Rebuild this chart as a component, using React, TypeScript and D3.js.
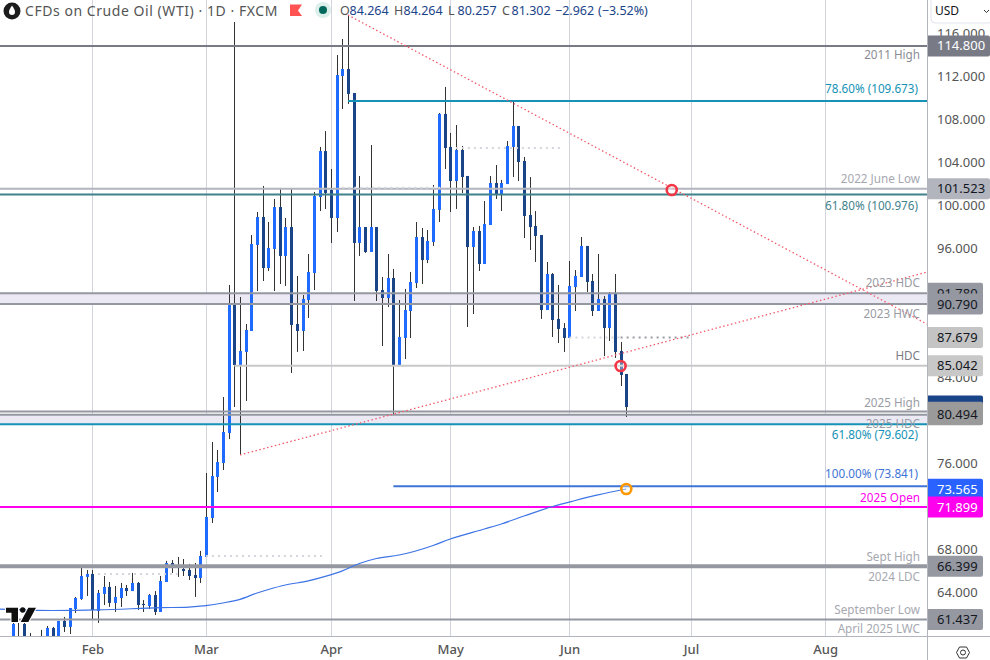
import React, { useEffect, useRef } from 'react';
import * as d3 from 'd3';

const WIDTH = 990;
const HEIGHT = 660;
const PLOT_RIGHT = 927;
const PLOT_BOTTOM = 636;
const FONT = '"Noto Sans", sans-serif';

const UP = '#1f6bff';
const DOWN = '#1a4488';
const WICK = '#333333';
const GRID = '#d1d4dc';

// daily candles, left to right
const opens = [59.54, 59.8, 61.03, 59.54, 59.3, 59.54, 59.54, 60.65, 59.54, 61.31, 60.75, 62.42, 63.35, 65.4, 65.68, 62.23, 63.82, 64.47, 62.98, 63.44, 64.37, 64.09, 64.84, 62.89, 62.7, 63.72, 62.14, 64.93, 66.7, 66.42, 66.14, 66.05, 65.58, 65.3, 67.26, 70.88, 74.7, 76.0, 78.79, 90.7, 85.12, 86.33, 88.28, 96.28, 98.88, 94.14, 95.91, 99.81, 95.26, 97.95, 88.93, 88.28, 91.16, 93.67, 100.74, 105.02, 101.4, 98.79, 112.0, 112.65, 110.42, 96.47, 97.95, 95.63, 97.95, 92.09, 91.35, 93.21, 85.12, 87.63, 90.14, 92.74, 97.02, 94.88, 96.56, 99.54, 108.47, 105.4, 102.23, 105.12, 102.7, 96.09, 97.58, 94.51, 98.14, 102.05, 101.02, 101.95, 105.4, 107.35, 104.09, 99.07, 98.05, 97.21, 90.23, 93.58, 89.4, 88.56, 87.63, 92.37, 93.3, 96.19, 92.93, 90.14, 91.26, 88.56, 91.81, 86.42, 84.28];
const highs = [61.58, 61.12, 61.4, 60.19, 59.5, 60.47, 60.84, 60.75, 61.31, 61.68, 62.51, 63.54, 66.23, 66.05, 66.05, 64.19, 65.49, 64.93, 64.56, 64.84, 64.65, 65.77, 64.93, 63.26, 63.82, 64.09, 65.49, 66.89, 66.98, 67.26, 67.07, 66.61, 66.7, 67.82, 75.07, 77.96, 77.21, 82.14, 92.56, 117.02, 91.44, 88.93, 97.21, 99.35, 101.77, 98.42, 100.56, 101.49, 98.79, 101.49, 93.4, 91.63, 95.44, 101.21, 105.4, 106.88, 103.35, 113.95, 115.44, 117.67, 110.42, 102.7, 97.95, 105.58, 97.95, 93.3, 95.44, 94.05, 91.16, 92.19, 93.77, 98.42, 97.86, 97.67, 101.86, 108.56, 110.98, 106.7, 107.44, 105.49, 102.7, 97.95, 98.05, 100.37, 102.7, 103.72, 102.33, 105.95, 109.67, 107.35, 104.47, 102.6, 99.44, 97.21, 94.7, 93.67, 92.56, 89.02, 94.79, 93.95, 97.02, 96.19, 93.58, 95.44, 91.53, 91.91, 93.58, 87.26, 84.28];
const lows = [59.35, 59.35, 59.35, 59.26, 59.0, 59.26, 59.26, 59.26, 59.54, 60.28, 60.09, 62.05, 63.26, 63.63, 61.49, 61.12, 62.79, 62.61, 62.14, 62.61, 63.63, 64.09, 62.33, 62.14, 62.42, 61.86, 62.14, 64.93, 65.77, 65.4, 65.49, 65.12, 63.54, 64.84, 67.26, 70.42, 73.3, 75.35, 78.23, 81.21, 76.75, 81.77, 88.28, 92.0, 92.93, 93.86, 92.0, 92.65, 92.47, 84.37, 86.33, 86.42, 89.49, 92.09, 99.44, 99.63, 96.47, 97.49, 108.93, 109.4, 91.07, 95.26, 95.54, 95.63, 91.07, 86.88, 90.51, 80.56, 85.12, 85.67, 87.63, 92.28, 92.65, 94.6, 96.19, 98.42, 103.35, 99.35, 99.63, 101.12, 88.65, 89.86, 93.86, 94.51, 98.14, 100.56, 99.44, 101.95, 102.6, 102.23, 96.93, 95.82, 94.7, 89.4, 90.23, 87.72, 87.16, 86.33, 87.63, 90.14, 93.3, 91.91, 89.67, 90.14, 85.95, 87.35, 85.77, 83.16, 80.28];
const closes = [61.03, 59.54, 59.54, 59.82, 59.4, 59.82, 60.65, 59.54, 61.31, 60.75, 62.51, 63.44, 65.49, 65.68, 62.33, 63.91, 64.47, 62.98, 63.54, 64.37, 64.09, 64.84, 62.79, 62.79, 63.72, 62.14, 65.02, 66.7, 66.51, 66.33, 65.95, 65.49, 65.3, 67.35, 70.98, 74.79, 76.09, 78.88, 90.7, 85.12, 86.42, 88.37, 96.37, 98.88, 94.14, 96.0, 99.81, 95.26, 97.95, 88.84, 88.28, 91.26, 93.77, 100.84, 105.02, 101.12, 98.79, 112.09, 112.65, 110.33, 96.47, 97.95, 95.63, 97.95, 92.0, 91.35, 93.21, 85.12, 87.72, 90.23, 92.84, 97.02, 94.88, 96.65, 99.63, 108.47, 105.3, 102.23, 105.12, 102.6, 96.09, 97.58, 94.51, 98.23, 102.05, 101.02, 102.05, 105.49, 107.35, 104.0, 98.98, 97.95, 97.12, 90.23, 93.58, 89.3, 88.47, 87.63, 92.47, 93.4, 96.19, 92.84, 90.14, 91.26, 88.56, 91.81, 86.33, 84.19, 81.21];

// moving average, sampled at these candle positions
const maIndex = [-3, 7, 15, 26, 31, 34, 37, 40, 43, 45, 48, 52, 55, 58, 61, 64, 68, 74, 77, 83, 86, 90, 95, 99, 103, 108];
const maValues = [62.42, 62.28, 62.33, 62.54, 62.6, 62.73, 62.98, 63.32, 63.91, 64.23, 64.65, 65.03, 65.45, 65.96, 66.65, 67.12, 67.44, 68.33, 68.93, 69.86, 70.33, 71.07, 71.95, 72.51, 73.03, 73.58];

const monthNames = ['Feb', 'Mar', 'Apr', 'May', 'Jun', 'Jul', 'Aug'];
const monthIndex = [14, 34, 56, 77, 98, 119.4, 143];
// the other round prices sit fully behind the axis boxes
const priceTicks = [116, 112, 108, 104, 100, 96, 84, 76, 68, 64];

// horizontal levels: price, colour, width, first candle (null = from the left edge)
const levelPrices = [114.8, 109.673, 101.523, 100.976, 91.78, 90.79, 85.042, 80.8, 80.494, 79.602, 73.841, 71.899, 66.399, 61.437];
const levelColors = ['#787b86', '#1592b5', '#b2b5be', '#3f828c', '#9598a1', '#9598a1', '#c8c8c8', '#9598a1', '#9598a1', '#1592b5', '#3d74d6', '#ff00ee', '#9598a1', '#9598a1'];
const levelWidths = [2, 2, 2, 2, 2, 2, 2, 2, 2, 2, 2, 2, 4, 2];
const levelStart: (number | null)[] = [null, 59, null, null, null, null, 39, null, null, null, 67, null, null, null];

// shaded zones between two prices
const zoneTops = [91.78, 80.494];
const zoneBottoms = [90.79, 79.602];

// dotted stubs: price, from candle, to candle, colour
const dotPrices = [105.3, 101.6, 87.679, 87.679, 67.35, 65.68];
const dotFrom = [78, 58, 98, 107, 34, 15];
const dotTo = [97, 76, 107, 119.5, 55, 29];
const dotColors = ['#d4d6dc', '#d4d6dc', '#d4d6dc', '#9a9ca3', '#d4d6dc', '#d4d6dc'];

// sloped trend lines
const trendFromIndex = [59, 40];
const trendFromPrice = [117.67, 76.75];
const trendToIndex = [161, 161];
const trendToPrice = [88.9, 93.77];

// ring markers
const ringIndex = [116, 107, 108];
const ringPrice = [101.4, 85.02, 73.58];
const ringColors = ['#f23645', '#f23645', '#ff9800'];

// right side text labels
const labelTexts = ['2011 High', '78.60% (109.673)', '2022 June Low', '61.80% (100.976)', '2023 HDC', '2023 HWC', 'HDC', '2025 High', '2025 HDC', '61.80% (79.602)', '100.00% (73.841)', '2025 Open', 'Sept High', '2024 LDC', 'September Low', 'April 2025 LWC'];
const labelPrices = [113.58, 110.38, 102.03, 99.53, 92.33, 89.5, 85.6, 81.18, 79.23, 78.25, 74.58, 72.38, 66.88, 64.98, 61.95, 60.2];
const labelRight = [920, 918, 920, 918, 920, 920, 920, 920, 920, 918, 918, 920, 920, 920, 920, 920];
const labelColors = ['#8a8c94', '#1592b5', '#a6a8b0', '#3f828c', '#9a9ca3', '#9a9ca3', '#7a7c84', '#9a9ca3', '#9a9ca3', '#1592b5', '#3d74d6', '#ff00ee', '#a6a8b0', '#a6a8b0', '#a6a8b0', '#a6a8b0'];

// price boxes on the axis, drawn in this order
const boxPrices = [114.8, 101.523, 91.78, 90.79, 87.679, 85.042, 81.302, 80.494, 73.565, 71.899, 66.399, 61.437];
const boxFills = ['#787b86', '#b2b5be', '#9598a1', '#9598a1', '#c4c4c4', '#c8c8c8', '#1a4488', '#9a9a9a', '#2962ff', '#ff00ee', '#9598a1', '#9598a1'];
const boxText = ['#ffffff', '#131722', '#131722', '#131722', '#131722', '#131722', '', '#131722', '#ffffff', '#ffffff', '#131722', '#131722'];
const boxRight = [990, 990, 983, 983, 983, 983, 983, 983, 983, 983, 983, 983];
const boxRise = [0, 0, 0, 0, 0, 0, 0, 2.5, 0, 0, 0, 0];

const legendNames = ['O', 'H', 'L', 'C'];
const legendValues = ['84.264', '84.264', '80.257', '81.302'];

const App: React.FC = () => {
  const svgRef = useRef<SVGSVGElement>(null);

  useEffect(() => {
    const svg = d3.select(svgRef.current);
    svg.selectAll('*').remove();

    const x = d3.scaleLinear().domain([0, 108]).range([12.8, 626.3]);
    const y = d3.scaleLinear().domain([100, 68]).range([205, 549]);
    const px = (v: number) => Math.round(x(v));

    svg.append('defs').append('clipPath').attr('id', 'plot')
      .append('rect').attr('width', PLOT_RIGHT).attr('height', PLOT_BOTTOM);

    const plot = svg.append('g').attr('clip-path', 'url(#plot)');

    // month grid
    monthIndex.forEach(m => {
      plot.append('line')
        .attr('x1', px(m) + 0.5).attr('x2', px(m) + 0.5)
        .attr('y1', 0).attr('y2', PLOT_BOTTOM)
        .attr('stroke', GRID).attr('stroke-width', 1);
    });

    // shaded zones
    zoneTops.forEach((top, i) => {
      plot.append('rect')
        .attr('x', 0).attr('width', PLOT_RIGHT)
        .attr('y', y(top)).attr('height', y(zoneBottoms[i]) - y(top))
        .attr('fill', '#ebe9f4');
    });

    // candles
    opens.forEach((open, i) => {
      const close = closes[i];
      const top = y(Math.max(open, close));
      const bottom = y(Math.min(open, close));
      plot.append('line')
        .attr('x1', px(i) + 0.5).attr('x2', px(i) + 0.5)
        .attr('y1', y(highs[i])).attr('y2', y(lows[i]))
        .attr('stroke', WICK).attr('stroke-width', 1);
      plot.append('rect')
        .attr('x', px(i) - 1).attr('width', 3)
        .attr('y', top).attr('height', Math.max(bottom - top, 1))
        .attr('fill', close >= open ? UP : DOWN);
    });

    // levels
    levelPrices.forEach((price, i) => {
      const start = levelStart[i];
      plot.append('line')
        .attr('x1', start === null ? 0 : x(start)).attr('x2', PLOT_RIGHT)
        .attr('y1', y(price)).attr('y2', y(price))
        .attr('stroke', levelColors[i]).attr('stroke-width', levelWidths[i]);
    });

    // dotted stubs
    dotPrices.forEach((price, i) => {
      plot.append('line')
        .attr('x1', x(dotFrom[i])).attr('x2', x(dotTo[i]))
        .attr('y1', y(price)).attr('y2', y(price))
        .attr('stroke', dotColors[i]).attr('stroke-width', 2)
        .attr('stroke-dasharray', '2 4');
    });

    // moving average
    const maLine = d3.line<number>()
      .x((_, i) => x(maIndex[i]))
      .y(d => y(d))
      .curve(d3.curveMonotoneX);
    plot.append('path')
      .attr('d', maLine(maValues))
      .attr('fill', 'none').attr('stroke', '#3d74e6').attr('stroke-width', 1.2);

    // trend lines
    trendFromIndex.forEach((from, i) => {
      plot.append('line')
        .attr('x1', x(from)).attr('y1', y(trendFromPrice[i]))
        .attr('x2', x(trendToIndex[i])).attr('y2', y(trendToPrice[i]))
        .attr('stroke', '#f25a6a').attr('stroke-width', 1.3)
        .attr('stroke-dasharray', '1.5 2.5');
    });

    // rings
    ringIndex.forEach((idx, i) => {
      plot.append('circle')
        .attr('cx', x(idx)).attr('cy', y(ringPrice[i])).attr('r', 5)
        .attr('fill', 'rgba(255,255,255,0.35)')
        .attr('stroke', ringColors[i]).attr('stroke-width', 2.6);
    });

    // level labels
    labelTexts.forEach((label, i) => {
      plot.append('text')
        .attr('x', labelRight[i]).attr('y', y(labelPrices[i]))
        .attr('text-anchor', 'end').attr('font-family', FONT).attr('font-size', 11.7)
        .attr('fill', labelColors[i])
        .text(label);
    });

    // logo
    const logo = svg.append('g').attr('fill', '#0f0f0f');
    logo.append('path')
      .attr('d', 'M6 607.7H18V622H11.5V612.7H6Z M36 607.7L28.3 622H20.7L28.3 607.7Z')
      .attr('stroke', '#ffffff').attr('stroke-width', 2).attr('paint-order', 'stroke');
    logo.append('circle').attr('cx', 22.7).attr('cy', 610).attr('r', 2.7);

    // price axis
    svg.append('rect')
      .attr('x', PLOT_RIGHT).attr('y', 0).attr('width', WIDTH - PLOT_RIGHT).attr('height', HEIGHT)
      .attr('fill', '#ffffff');

    const yAxis = d3.axisRight(y)
      .tickValues(priceTicks)
      .tickSize(0)
      .tickPadding(10)
      .tickFormat(d3.format('.3f') as any);
    const yAxisG = svg.append('g').attr('transform', `translate(${PLOT_RIGHT},0)`).call(yAxis);
    yAxisG.select('.domain').remove();
    yAxisG.selectAll('text')
      .attr('font-family', FONT).attr('font-size', 13).attr('fill', '#555555');

    boxPrices.forEach((price, i) => {
      const cy = y(price);
      const top = cy - 10.5 - boxRise[i];
      svg.append('path')
        .attr('d', `M${PLOT_RIGHT + 1} ${top}H${boxRight[i] - 2}a2 2 0 0 1 2 2V${cy + 8.5}a2 2 0 0 1 -2 2H${PLOT_RIGHT + 1}Z`)
        .attr('fill', boxFills[i]);
      if (boxText[i]) {
        svg.append('text')
          .attr('x', 937).attr('y', cy + 4.5)
          .attr('font-family', FONT).attr('font-size', 13).attr('fill', boxText[i])
          .text(d3.format('.3f')(price));
      }
    });

    // time axis
    svg.append('rect')
      .attr('x', 0).attr('y', PLOT_BOTTOM).attr('width', WIDTH).attr('height', HEIGHT - PLOT_BOTTOM)
      .attr('fill', '#ffffff');

    const xAxis = d3.axisBottom(x)
      .tickValues(monthIndex)
      .tickSize(0)
      .tickPadding(9)
      .tickFormat((_, i) => monthNames[i]);
    const xAxisG = svg.append('g').attr('transform', `translate(0,${PLOT_BOTTOM})`).call(xAxis);
    xAxisG.select('.domain').remove();
    xAxisG.selectAll('text')
      .attr('font-family', FONT).attr('font-size', 13).attr('font-weight', 500).attr('fill', '#555555');

    svg.append('line')
      .attr('x1', 0).attr('x2', WIDTH).attr('y1', PLOT_BOTTOM + 0.5).attr('y2', PLOT_BOTTOM + 0.5)
      .attr('stroke', '#b2b5be');
    svg.append('line')
      .attr('x1', PLOT_RIGHT + 0.5).attr('x2', PLOT_RIGHT + 0.5).attr('y1', 0).attr('y2', HEIGHT)
      .attr('stroke', '#b2b5be');

    // settings icon
    svg.append('path')
      .attr('d', 'M956.5 652.5L959.5 647H966.5L969.5 652.5L966.5 658H959.5Z')
      .attr('fill', 'none').attr('stroke', '#333333').attr('stroke-width', 1);
    svg.append('circle')
      .attr('cx', 963).attr('cy', 652.5).attr('r', 2.5)
      .attr('fill', 'none').attr('stroke', '#333333').attr('stroke-width', 1);

    // currency selector
    svg.append('rect')
      .attr('x', 931).attr('y', -4).attr('width', 62).attr('height', 27).attr('rx', 4)
      .attr('fill', '#ffffff').attr('stroke', '#e0e3eb');
    svg.append('text')
      .attr('x', 935).attr('y', 15)
      .attr('font-family', FONT).attr('font-size', 12).attr('fill', '#131722')
      .text('USD');
    svg.append('path')
      .attr('d', 'M984 10L986.5 12.5L989 10')
      .attr('fill', 'none').attr('stroke', '#333333').attr('stroke-width', 1);

    // header
    const header = svg.append('g').attr('font-family', FONT);
    header.append('circle').attr('cx', 12).attr('cy', 11).attr('r', 8.5).attr('fill', '#1c1c1c');
    header.append('path')
      .attr('d', 'M12 5.5C10 8.5 9 10 9 12A3 3 0 0 0 15 12C15 10 14 8.5 12 5.5Z')
      .attr('fill', '#ffffff');
    header.append('text')
      .attr('x', 25).attr('y', 16).attr('font-size', 14).attr('letter-spacing', 0.55).attr('fill', '#555555')
      .text('CFDs on Crude Oil (WTI) · 1D · FXCM');
    header.append('path')
      .attr('d', 'M290 4.5H302L298 10.5L302 16H290Z').attr('fill', '#ff5252');
    header.append('circle').attr('cx', 323).attr('cy', 10).attr('r', 8).attr('fill', '#dcefea');
    header.append('circle').attr('cx', 323).attr('cy', 10).attr('r', 4).attr('fill', '#00695c');

    legendNames.forEach((name, i) => {
      const left = 340 + i * 54;
      header.append('text')
        .attr('x', left).attr('y', 15).attr('font-size', 12.5).attr('fill', '#555555')
        .text(name);
      header.append('text')
        .attr('x', left + 9.5).attr('y', 15).attr('font-size', 12.5).attr('fill', DOWN)
        .text(legendValues[i]);
    });
    header.append('text')
      .attr('x', 555).attr('y', 15).attr('font-size', 12.5).attr('fill', DOWN)
      .text('−2.962');
    header.append('text')
      .attr('x', 598).attr('y', 15).attr('font-size', 12.5).attr('fill', DOWN)
      .text('(−3.52%)');
  }, []);

  return (
    <svg
      ref={svgRef}
      width={WIDTH}
      height={HEIGHT}
      style={{ position: 'absolute', left: 0, top: 0, background: '#ffffff' }}
    />
  );
};

export default App;
